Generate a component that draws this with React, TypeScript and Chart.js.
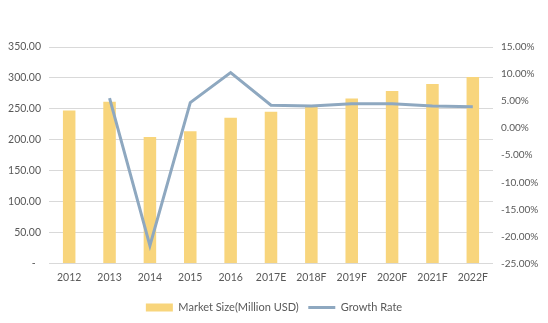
import React, { useEffect, useRef } from "react";
import { Chart, registerables } from "chart.js";

Chart.register(...registerables);

const categories = ["2012", "2013", "2014", "2015", "2016", "2017E", "2018F", "2019F", "2020F", "2021F", "2022F"];
const marketSize = [247.3, 261.3, 204.4, 214.0, 235.5, 245.2, 253.7, 266.6, 279.0, 290.3, 301.6];
const growthRate = [null, 5.54, -21.7, 4.73, 10.26, 4.25, 4.12, 4.5, 4.5, 4.1, 3.94];

const TEXT = "#595959";
const FONT = "Lato";
const FS = 10.5;

export default function App() {
  const ref = useRef<HTMLCanvasElement>(null);
  useEffect(() => {
    document.body.style.margin = "0";
    const chart = new Chart(ref.current!, {
      type: "bar",
      data: {
        labels: categories,
        datasets: [
          {
            type: "bar",
            label: "Market Size(Million USD)",
            data: marketSize,
            backgroundColor: "#F8D57C",
            borderWidth: 0,
            barPercentage: 0.31,
            categoryPercentage: 1,
            yAxisID: "y",
            order: 2,
          },
          {
            type: "line",
            label: "Growth Rate",
            data: growthRate as any,
            borderColor: "#8EA8C0",
            backgroundColor: "#8EA8C0",
            borderWidth: 3,
            pointRadius: 0,
            tension: 0,
            yAxisID: "y1",
            order: 1,
          } as any,
        ],
      },
      options: {
        animation: false,
        responsive: false,
        layout: { padding: { top: 47, left: 0, right: 0, bottom: 0 } },
        plugins: {
          tooltip: { enabled: false },
          legend: {
            position: "bottom",
            labels: {
              sort: (a: any, b: any) => a.datasetIndex - b.datasetIndex,
              usePointStyle: true,
              pointStyleWidth: 27,
              boxHeight: 8,
              color: TEXT,
              font: { family: FONT, size: 11 },
              padding: 9.5,
              generateLabels: (chart: any) => {
                const items = Chart.defaults.plugins.legend.labels.generateLabels(chart);
                items.forEach((it: any) => {
                  if (it.datasetIndex === 0) {
                    it.pointStyle = "rect";
                    it.lineWidth = 0;
                  } else {
                    it.pointStyle = "line";
                    it.lineWidth = 3;
                  }
                });
                return items;
              },
            },
          },
        },
        scales: {
          x: {
            grid: { display: false, drawTicks: false },
            border: { display: false },
            ticks: { color: TEXT, font: { family: FONT, size: FS }, maxRotation: 0, autoSkip: false, padding: 8 },
            afterFit: (s: any) => {
              s.height = 29;
            },
          },
          y: {
            position: "left",
            min: 0,
            max: 350,
            grid: { color: "#D9D9D9", lineWidth: 1, drawTicks: false },
            border: { display: false },
            ticks: {
              stepSize: 50,
              color: TEXT,
              font: { family: FONT, size: FS },
              padding: 8,
              callback: (v: any) => (v === 0 ? "-  " : Number(v).toFixed(2)),
            },
            afterFit: (s: any) => {
              s.width = 49;
            },
          },
          y1: {
            position: "right",
            min: -25,
            max: 15,
            grid: { display: false, drawTicks: false },
            border: { display: false },
            ticks: {
              stepSize: 5,
              color: TEXT,
              font: { family: FONT, size: 10 },
              padding: 8,
              callback: (v: any) => Number(v).toFixed(2) + "%",
            },
            afterFit: (s: any) => {
              s.width = 55;
            },
          },
        },
      },
    });
    return () => chart.destroy();
  }, []);
  return (
    <div style={{ width: 548, height: 323, background: "#fff" }}>
      <canvas ref={ref} width={548} height={323} />
    </div>
  );
}
